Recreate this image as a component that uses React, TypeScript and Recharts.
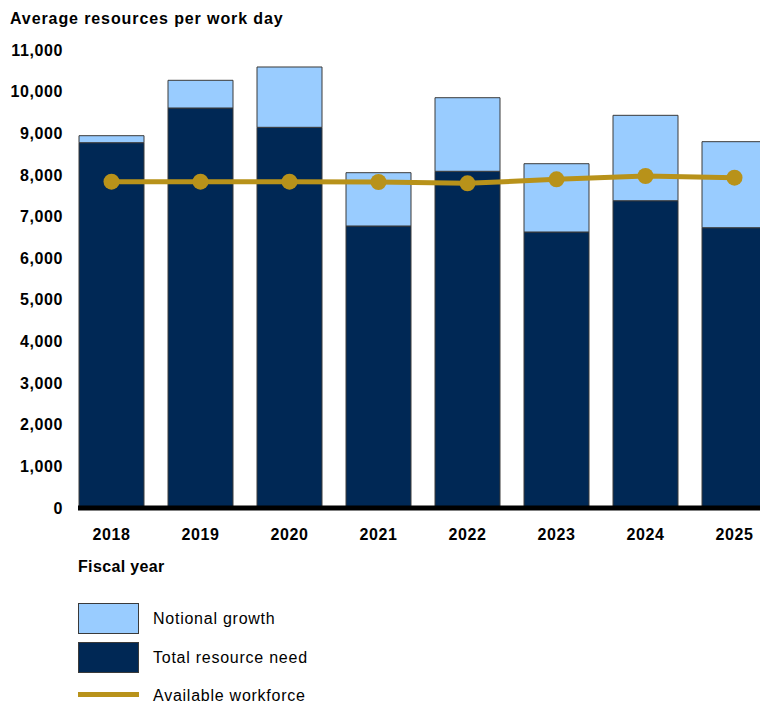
import { ComposedChart, Bar, Line, XAxis, YAxis } from 'recharts';

const years = ['2018', '2019', '2020', '2021', '2022', '2023', '2024', '2025'];
const totalNeed = [8774, 9607, 9143, 6773, 8087, 6629, 7380, 6732];
const notionalGrowth = [168, 665, 1449, 1280, 1767, 1640, 2051, 2066];
const availableWorkforce = [7837, 7837, 7837, 7830, 7798, 7894, 7974, 7933];
const yTicks = [0, 1000, 2000, 3000, 4000, 5000, 6000, 7000, 8000, 9000, 10000, 11000];

const data = years.map((year, i) => ({
  year,
  need: totalNeed[i],
  growth: notionalGrowth[i],
  workforce: availableWorkforce[i],
}));

const NAVY = '#002855';
const LIGHT = '#99ccff';
const GOLD = '#b8921a';
const OUTLINE = '#3a3a3a';
const FONT = '"Liberation Sans", Arial, sans-serif';

const legendItems = [
  { label: 'Notional growth', color: LIGHT, kind: 'box' },
  { label: 'Total resource need', color: NAVY, kind: 'box' },
  { label: 'Available workforce', color: GOLD, kind: 'line' },
];

const tickStyle = {
  fontSize: 16,
  fontWeight: 'bold',
  fill: '#000',
  fontFamily: FONT,
  style: { letterSpacing: '0.6px' },
};

export default function App() {
  return (
    <div
      style={{
        position: 'absolute',
        left: 0,
        top: 0,
        width: 760,
        height: 707,
        overflow: 'hidden',
        background: '#fff',
        fontFamily: FONT,
        color: '#000',
      }}
    >
      <div
        style={{
          position: 'absolute',
          left: 10,
          top: 11,
          fontSize: 16,
          lineHeight: '16px',
          fontWeight: 'bold',
          letterSpacing: '0.9px',
          whiteSpace: 'nowrap',
        }}
      >
        Average resources per work day
      </div>

      <ComposedChart
        width={779}
        height={707}
        data={data}
        margin={{ top: 50, right: 0, bottom: 159, left: 0 }}
      >
        <XAxis
          dataKey="year"
          height={40}
          padding={{ left: -11, right: 0 }}
          axisLine={{ stroke: '#000', strokeWidth: 5 }}
          tickLine={false}
          tickSize={0}
          tickMargin={21}
          tick={tickStyle}
        />
        <YAxis
          width={78}
          domain={[0, 11000]}
          ticks={yTicks}
          interval={0}
          axisLine={false}
          tickLine={false}
          tickSize={0}
          tickMargin={15}
          tickFormatter={(v: number) => v.toLocaleString('en-US')}
          tick={tickStyle}
        />
        <Bar
          dataKey="need"
          stackId="a"
          barSize={65}
          fill={NAVY}
          stroke={OUTLINE}
          strokeWidth={1}
          isAnimationActive={false}
        />
        <Bar
          dataKey="growth"
          stackId="a"
          barSize={65}
          fill={LIGHT}
          stroke={OUTLINE}
          strokeWidth={1}
          isAnimationActive={false}
        />
        <Line
          dataKey="workforce"
          type="linear"
          stroke={GOLD}
          strokeWidth={5}
          dot={{ r: 8, fill: GOLD, stroke: GOLD, strokeWidth: 0 }}
          activeDot={false}
          isAnimationActive={false}
        />
      </ComposedChart>

      <div
        style={{
          position: 'absolute',
          left: 78,
          top: 559,
          fontSize: 16,
          lineHeight: '16px',
          fontWeight: 'bold',
          letterSpacing: '0.35px',
          whiteSpace: 'nowrap',
        }}
      >
        Fiscal year
      </div>

      {legendItems.map((item, i) => {
        const centers = [618, 657, 695];
        const cy = centers[i];
        return (
          <div key={item.label}>
            {item.kind === 'box' ? (
              <div
                style={{
                  position: 'absolute',
                  left: 78,
                  top: cy - 15.5,
                  width: 59,
                  height: 29,
                  background: item.color,
                  border: `1px solid ${OUTLINE}`,
                }}
              />
            ) : (
              <div
                style={{
                  position: 'absolute',
                  left: 78,
                  top: cy - 3,
                  width: 61,
                  height: 5,
                  background: item.color,
                }}
              />
            )}
            <div
              style={{
                position: 'absolute',
                left: 153,
                top: cy - 8.5,
                fontSize: 16,
                lineHeight: '18px',
                letterSpacing: '0.75px',
                whiteSpace: 'nowrap',
              }}
            >
              {item.label}
            </div>
          </div>
        );
      })}
    </div>
  );
}
